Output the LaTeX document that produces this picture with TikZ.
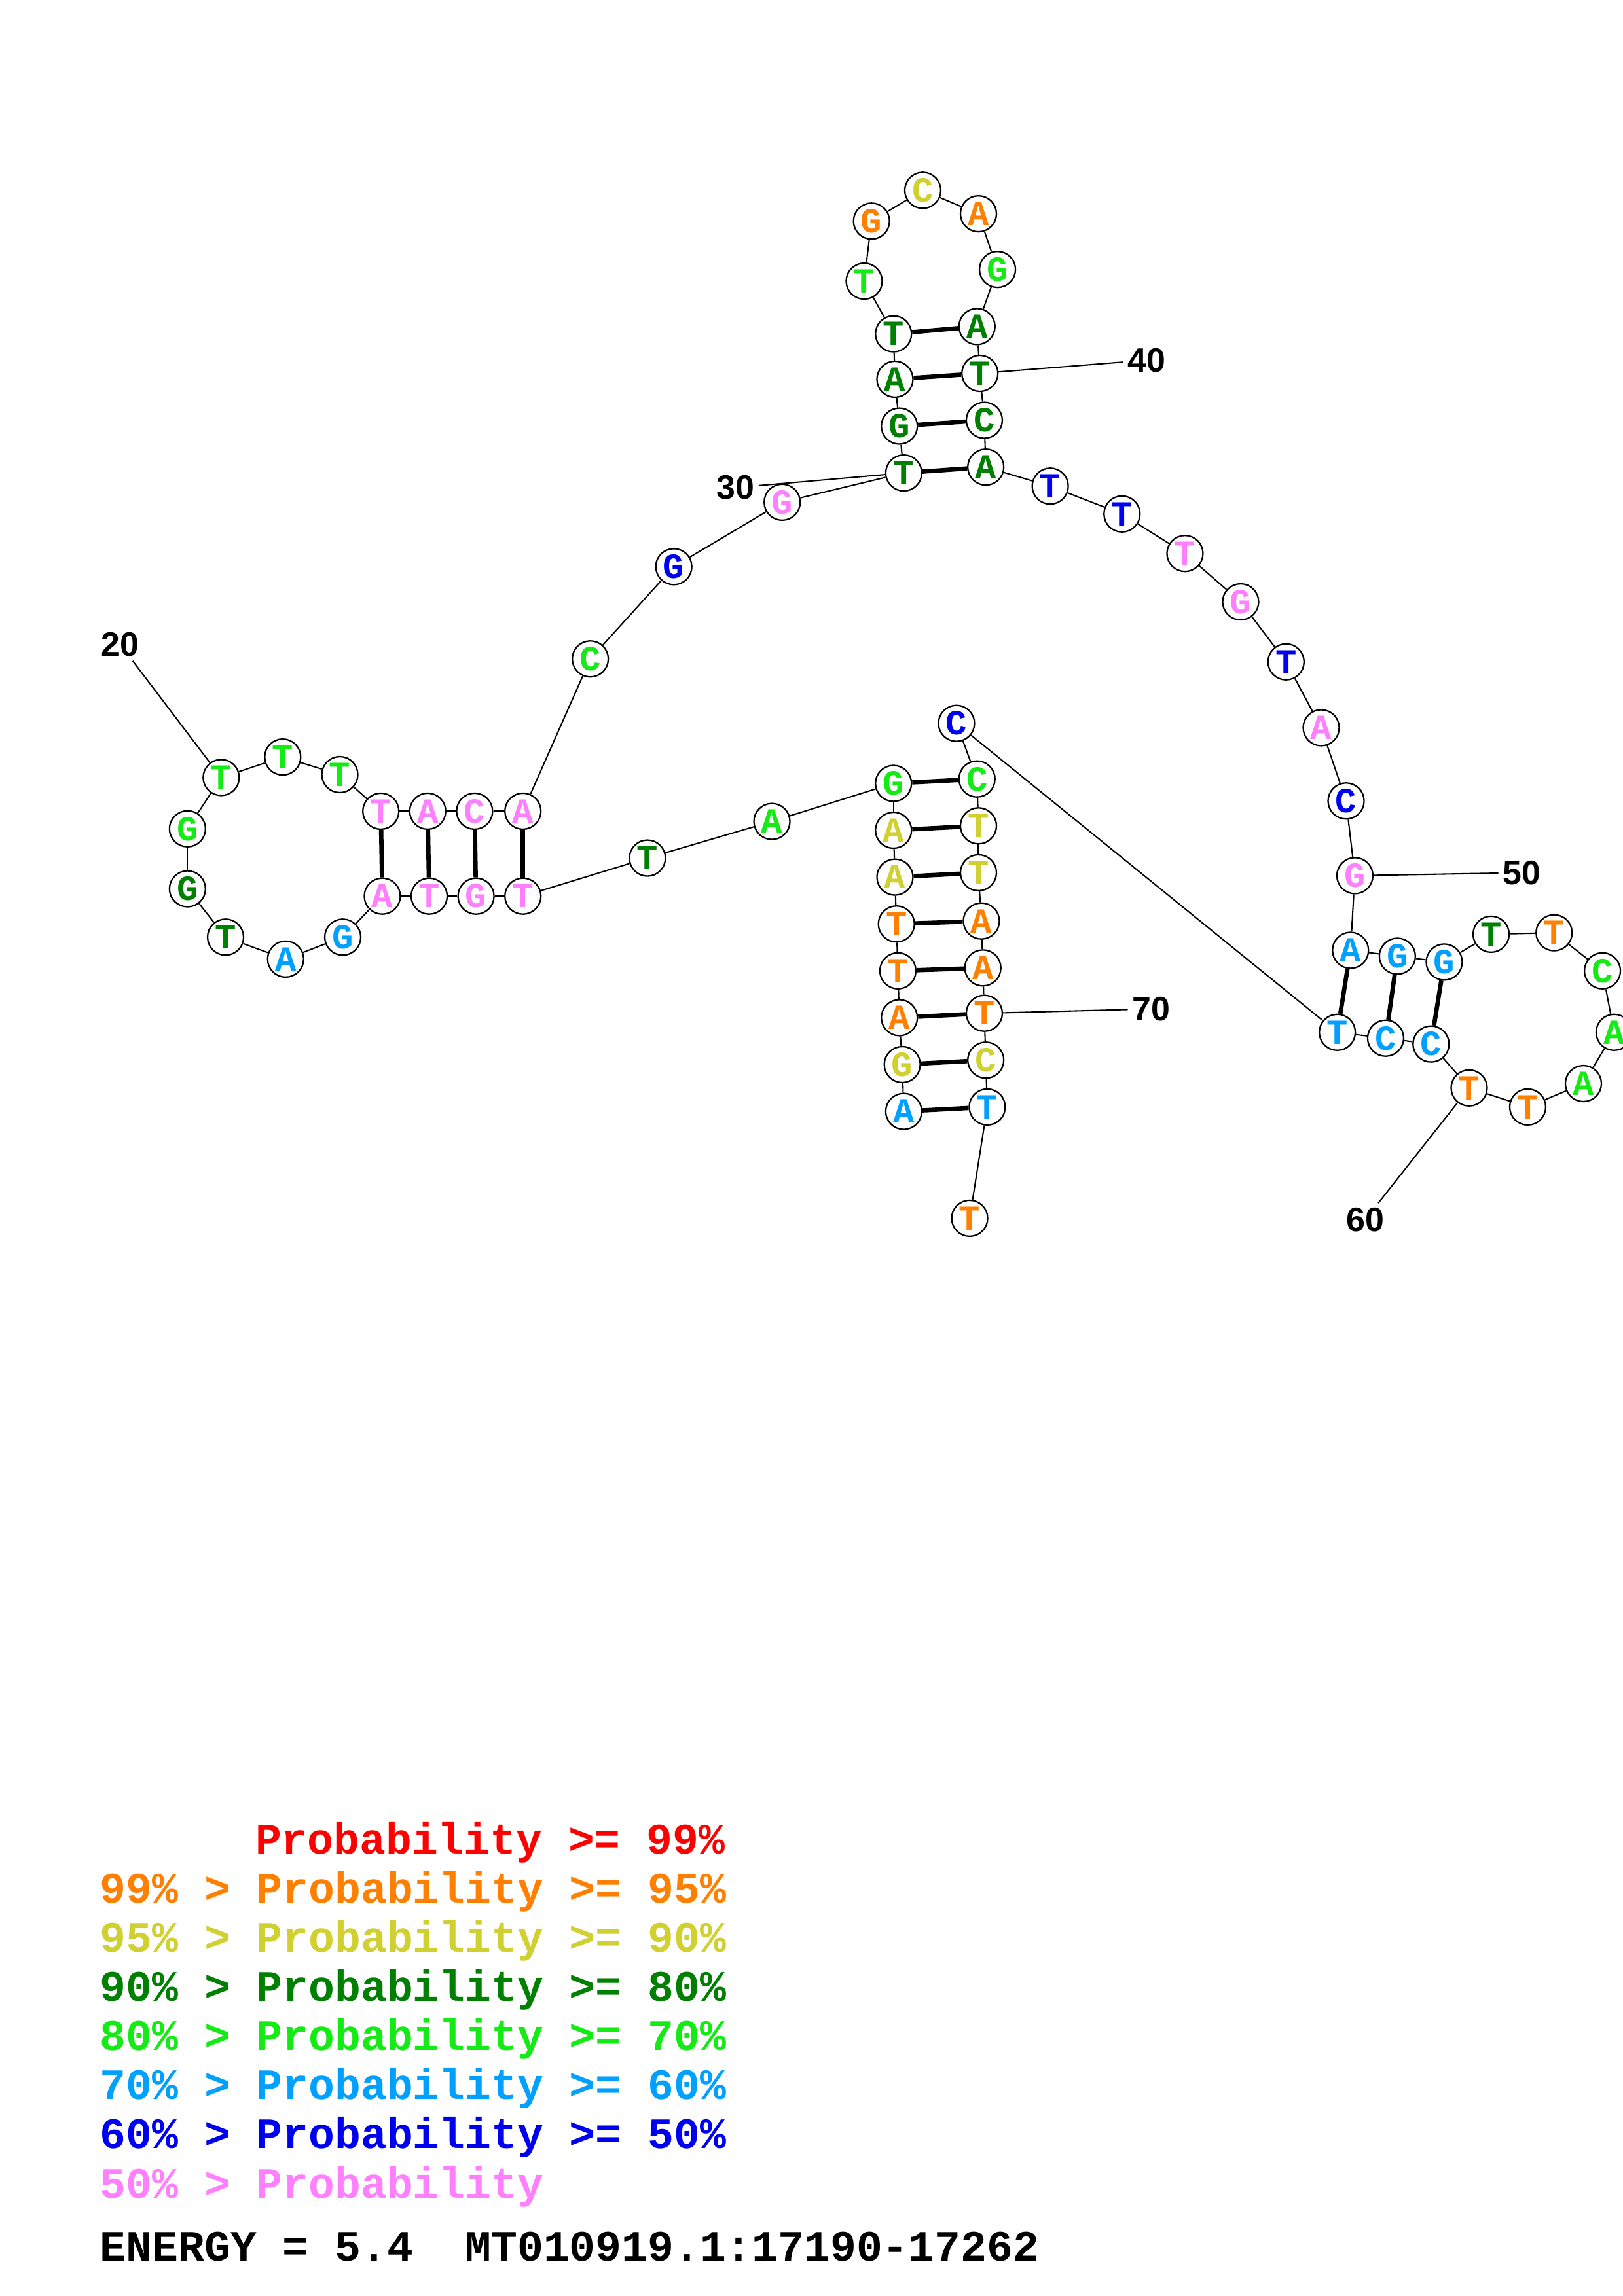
\documentclass[tikz,border=0pt]{standalone}
\usepackage{fontspec}
\newfontfamily\nucfont{Liberation Mono}
\newfontfamily\numfont{Liberation Sans}

\definecolor{pr99}{RGB}{255,0,0}
\definecolor{pr95}{RGB}{255,128,0}
\definecolor{pr90}{RGB}{208,208,48}
\definecolor{pr80}{RGB}{0,128,0}
\definecolor{pr70}{RGB}{20,235,20}
\definecolor{pr60}{RGB}{0,160,255}
\definecolor{pr50}{RGB}{0,0,240}
\definecolor{prlow}{RGB}{255,128,255}

\tikzset{
	nuc/.style={circle, draw, line width=0.55pt, fill=white, minimum size=0.466cm, inner sep=0pt,
		font=\nucfont\bfseries\fontsize{13}{13}\selectfont},
	bb/.style={line width=0.5pt},
	bp/.style={line width=1.6pt},
	numlbl/.style={inner sep=1.5pt, font=\numfont\bfseries\fontsize{12.5}{12.5}\selectfont},
	legend/.style={anchor=base west, inner sep=0pt, font=\nucfont\bfseries\fontsize{16}{16}\selectfont}
}

\begin{document}
\begin{tikzpicture}[x=0.018953cm, y=-0.018953cm]
		\useasboundingbox (0,0) rectangle (1108,1568);
		% nucleotides
		\foreach \i/\b/\c/\x/\y in {
			1/A/pr60/617/759, 2/G/pr90/616/727, 3/A/pr95/614/695, 4/T/pr95/613/663,
			5/T/pr95/612/631, 6/A/pr90/611/599, 7/A/pr90/610/567, 8/G/pr70/610/535,
			9/A/pr70/527/561, 10/T/pr80/442/586, 11/T/prlow/357/612, 12/G/prlow/325/612,
			13/T/prlow/293/612, 14/A/prlow/261/612, 15/G/pr60/234/640, 16/A/pr60/195/655,
			17/T/pr80/154/640, 18/G/pr80/128/607, 19/G/pr70/128/566, 20/T/pr70/151/531,
			21/T/pr70/193/517, 22/T/pr70/232/529, 23/T/prlow/260/554, 24/A/prlow/292/554,
			25/C/prlow/324/554, 26/A/prlow/357/554, 27/C/pr70/403/450, 28/G/pr50/460/387,
			29/G/prlow/534/343, 30/T/pr80/617/323, 31/G/pr80/614/291, 32/A/pr80/611/259,
			33/T/pr80/610/228, 34/T/pr70/590/192, 35/G/pr95/595/151, 36/C/pr90/630/130,
			37/A/pr95/668/146, 38/G/pr70/681/184, 39/A/pr80/667/223, 40/T/pr80/669/255,
			41/C/pr80/672/287, 42/A/pr80/673/319, 43/T/pr50/717/332, 44/T/pr50/766/351,
			45/T/prlow/809/378, 46/G/prlow/847/411, 47/T/pr50/878/452, 48/A/prlow/902/497,
			49/C/pr50/919/547, 50/G/prlow/925/598, 51/A/pr60/922/649, 52/G/pr60/954/653,
			53/G/pr60/986/657, 54/T/pr80/1018/638, 55/T/pr95/1061/637, 56/C/pr70/1094/663,
			57/A/pr70/1102/705, 58/A/pr70/1081/740, 59/T/pr95/1043/756, 60/T/pr95/1003/743,
			61/C/pr60/977/713, 62/C/pr60/946/709, 63/T/pr60/913/705, 64/C/pr50/653/494,
			65/C/pr70/667/532, 66/T/pr90/668/564, 67/T/pr90/668/596, 68/A/pr95/670/629,
			69/A/pr95/671/661, 70/T/pr95/672/692, 71/C/pr90/673/724, 72/T/pr60/674/756,
			73/T/pr95/662/832}
		{
			\node[nuc, text=\c] (n\i) at (\x,\y) {\b};
		}
		% backbone
		\foreach \i in {1,...,72}
		{
			\pgfmathtruncatemacro{\j}{\i+1}
			\draw[bb] (n\i) -- (n\j);
		}
		% base pairs
		\foreach \p/\q in {1/72, 2/71, 3/70, 4/69, 5/68, 6/67, 7/66, 8/65,
			11/26, 12/25, 13/24, 14/23, 30/42, 31/41, 32/40, 33/39, 51/63, 52/62, 53/61}
		{
			\draw[bp] (n\p) -- (n\q);
		}
		% position numbers
		\foreach \k/\lx/\ly in {20/82/440, 30/502/333, 40/783/246, 50/1039/596, 60/932/833, 70/786/689}
		{
			\node[numlbl] (l\k) at (\lx,\ly) {\k};
			\draw[bb] (l\k) -- (n\k);
		}
		% legend
		\node[legend, text=pr99] (leg99) at (174,1266) {Probability >= 99\%};
		\foreach \r/\hi/\lo/\c in {1/99/95/pr95, 2/95/90/pr90, 3/90/80/pr80, 4/80/70/pr70, 5/70/60/pr60, 6/60/50/pr50}
		{
			\node[legend, text=\c] (leg\lo) at (68,1266+33.5*\r) {\hi\% > Probability >= \lo\%};
		}
		\node[legend, text=prlow] (leglow) at (68,1501) {50\% > Probability};
		\node[legend] (energy) at (68,1544) {ENERGY = 5.4 \ MT010919.1:17190-17262};
	\end{tikzpicture}
\end{document}
